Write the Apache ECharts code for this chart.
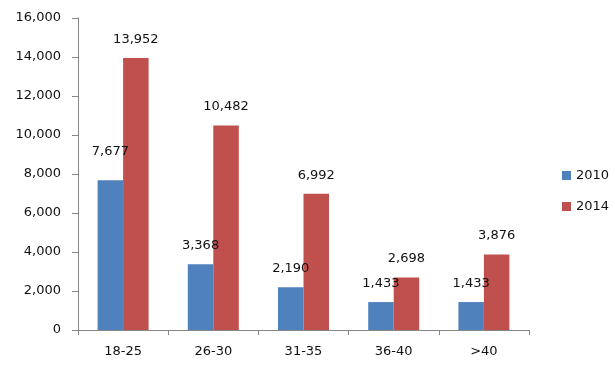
<!DOCTYPE html>
<html><head><meta charset="utf-8">
<script src="https://cdn.jsdelivr.net/npm/echarts@6/dist/echarts.min.js"></script>
<style>html,body{margin:0;padding:0;background:#fff}#c{width:615px;height:375px}</style>
</head><body><div id="c"></div>
<script>
const categories = ['18-25', '26-30', '31-35', '36-40', '>40'];
const seriesNames = ['2010', '2014'];
const values2010 = [7677, 3368, 2190, 1433, 1433];
const values2014 = [13952, 10482, 6992, 2698, 3876];
const yTicks = { min: 0, max: 16000, interval: 2000 };

const FONT = 'DejaVu Sans';
const axisColor = '#868686';
const colors = ['#4F81BD', '#C0504D'];

function mkData(vals, raised) {
  return vals.map((v, i) => raised.includes(i) ? { value: v, label: { distance: 22 } } : v);
}

const chart = echarts.init(document.getElementById('c'), null, { renderer: 'canvas' });
chart.setOption({
  animation: false,
  color: colors,
  textStyle: { fontFamily: FONT },
  grid: { left: 78, right: 86, top: 18, bottom: 45, containLabel: false },
  legend: {
    orient: 'vertical', left: 557, top: 164,
    itemWidth: 9, itemHeight: 9, itemGap: 18,
    icon: 'rect',
    textStyle: { fontFamily: FONT, fontSize: 13, color: '#111' },
    data: seriesNames
  },
  xAxis: {
    type: 'category', data: categories,
    axisLine: { lineStyle: { color: axisColor } },
    axisTick: { show: true, length: 5, alignWithLabel: false, lineStyle: { color: axisColor } },
    axisLabel: { fontFamily: FONT, fontSize: 13, color: '#111', margin: 15 }
  },
  yAxis: {
    type: 'value', min: yTicks.min, max: yTicks.max, interval: yTicks.interval,
    axisLine: { show: true, lineStyle: { color: axisColor } },
    axisTick: { show: true, length: 6, lineStyle: { color: axisColor } },
    splitLine: { show: false },
    axisLabel: {
      fontFamily: FONT, fontSize: 13, color: '#111', margin: 17,
      formatter: v => v.toLocaleString('en-US')
    }
  },
  series: [
    {
      name: seriesNames[0], type: 'bar', data: mkData(values2010, [0]),
      barWidth: 25.5, barGap: '0%',
      label: { show: true, position: 'top', distance: 12, fontFamily: FONT, fontSize: 13, color: '#111',
        formatter: p => p.value.toLocaleString('en-US') }
    },
    {
      name: seriesNames[1], type: 'bar', data: mkData(values2014, []),
      barWidth: 25.5, barGap: '0%',
      label: { show: true, position: 'top', distance: 12, fontFamily: FONT, fontSize: 13, color: '#111',
        formatter: p => p.value.toLocaleString('en-US') }
    }
  ]
});
</script></body></html>
